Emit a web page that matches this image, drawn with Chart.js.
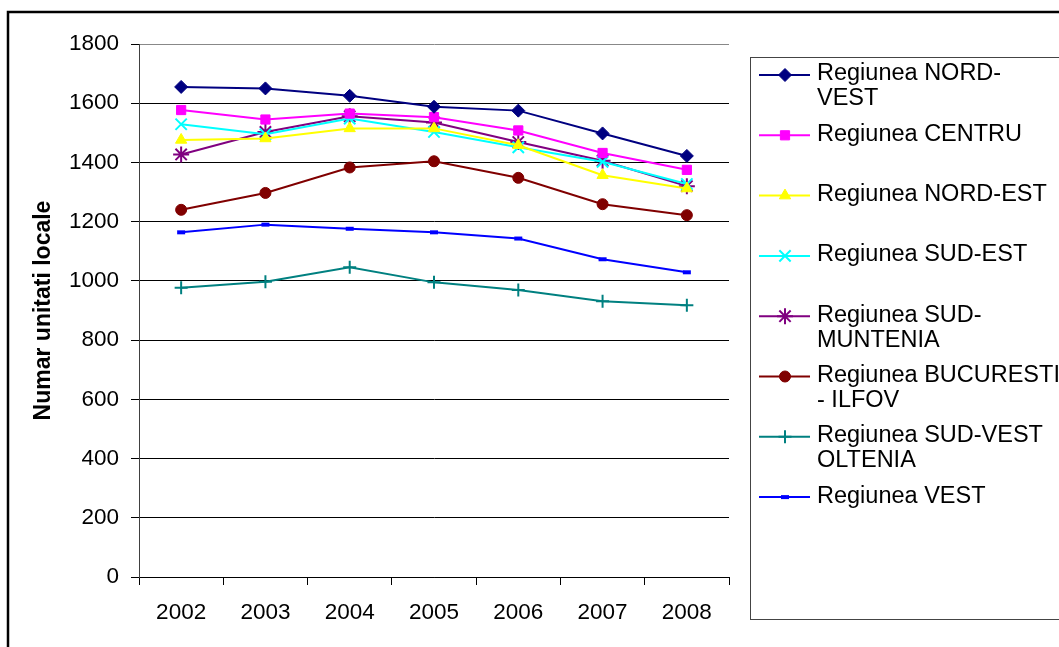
<!DOCTYPE html>
<html>
<head>
<meta charset="utf-8">
<script src="https://cdn.jsdelivr.net/npm/chart.js@4/dist/chart.umd.min.js"></script>
<style>
  html, body { margin: 0; padding: 0; background: #fff; }
  #c { display: block; }
</style>
</head>
<body>
<canvas id="c" width="1059" height="647"></canvas>
<script>
// ---- data ----
const years = ['2002', '2003', '2004', '2005', '2006', '2007', '2008'];
const nordVest       = [1655, 1650, 1625, 1588, 1575, 1498, 1422];
const centru         = [1577, 1545, 1565, 1553, 1508, 1432, 1375];
const nordEst        = [1476, 1481, 1515, 1515, 1458, 1357, 1312];
const sudEst         = [1529, 1495, 1548, 1503, 1451, 1402, 1327];
const sudMuntenia    = [1427, 1503, 1556, 1535, 1469, 1406, 1320];
const bucuresti      = [1240, 1297, 1383, 1404, 1348, 1259, 1222];
const sudVestOltenia = [977, 997, 1046, 995, 969, 931, 918];
const vest           = [1164, 1190, 1176, 1164, 1143, 1073, 1029];
const yTicks = [0, 200, 400, 600, 800, 1000, 1200, 1400, 1600, 1800];
const yTitle = 'Numar unitati locale';
const legendLines = [
  ['Regiunea NORD-', 'VEST'],
  ['Regiunea CENTRU'],
  ['Regiunea NORD-EST'],
  ['Regiunea SUD-EST'],
  ['Regiunea SUD-', 'MUNTENIA'],
  ['Regiunea BUCURESTI', '- ILFOV'],
  ['Regiunea SUD-VEST', 'OLTENIA'],
  ['Regiunea VEST']
];

const FONT = '"Liberation Sans", Arial, sans-serif';

function ds(label, data, color, style, radius, bw) {
  return {
    label: label, data: data,
    borderColor: color, backgroundColor: color,
    pointBackgroundColor: color, pointBorderColor: color,
    pointStyle: style, pointRadius: radius, pointHoverRadius: radius,
    pointBorderWidth: bw, borderWidth: 2, tension: 0, fill: false
  };
}

const datasets = [
  ds(legendLines[0].join(' '), nordVest, '#000080', 'rectRot', 6.5, 1),
  ds(legendLines[1].join(' '), centru, '#FF00FF', 'rect', 6.5, 1),
  ds(legendLines[2].join(' '), nordEst, '#FFFF00', 'triangle', 6.5, 1),
  ds(legendLines[3].join(' '), sudEst, '#00FFFF', 'crossRot', 8, 2),
  ds(legendLines[4].join(' '), sudMuntenia, '#800080', 'star', 8, 2),
  ds(legendLines[5].join(' '), bucuresti, '#800000', 'circle', 5.5, 1),
  ds(legendLines[6].join(' '), sudVestOltenia, '#008080', 'cross', 6.5, 2),
  ds(legendLines[7].join(' '), vest, '#0000FF', 'line', 4, 4)
];

const framePlugin = {
  id: 'framePlugin',
  beforeDraw(chart) {
    const ctx = chart.ctx;
    ctx.save();
    ctx.fillStyle = '#fff';
    ctx.fillRect(0, 0, chart.width, chart.height);
    ctx.strokeStyle = '#000';
    ctx.lineWidth = 2.5;
    ctx.strokeRect(8, 12, 1200, 800);
    ctx.restore();
  },
  afterDraw(chart) {
    const ctx = chart.ctx;
    ctx.save();
    // legend box
    ctx.strokeStyle = '#444';
    ctx.lineWidth = 1;
    ctx.strokeRect(750.5, 57.5, 400, 562);
    ctx.font = '23.5px ' + FONT;
    ctx.textBaseline = 'middle';
    ctx.textAlign = 'left';
    ctx.fillStyle = '#000';
    chart.data.datasets.forEach((d, i) => {
      const y = 75 + i * 60.3;
      ctx.strokeStyle = d.borderColor;
      ctx.lineWidth = 2;
      ctx.beginPath();
      ctx.moveTo(759, y);
      ctx.lineTo(810, y);
      ctx.stroke();
      if (Chart.helpers && Chart.helpers.drawPoint) {
        ctx.fillStyle = d.pointBackgroundColor;
        ctx.strokeStyle = d.pointBorderColor;
        ctx.lineWidth = d.pointBorderWidth;
        Chart.helpers.drawPoint(ctx, {
          pointStyle: d.pointStyle, radius: d.pointRadius, rotation: 0,
          borderWidth: d.pointBorderWidth
        }, 785, y);
      }
      ctx.fillStyle = '#000';
      legendLines[i].forEach((t, k) => {
        ctx.fillText(t, 817, y - 1 + k * 25);
      });
    });
    ctx.restore();
  }
};

new Chart(document.getElementById('c'), {
  type: 'line',
  data: { labels: years, datasets: datasets },
  plugins: [framePlugin],
  options: {
    responsive: false,
    animation: false,
    events: [],
    layout: { padding: { left: 0, top: 44, right: 330, bottom: 0 } },
    plugins: { legend: { display: false }, tooltip: { enabled: false } },
    scales: {
      x: {
        offset: true,
        afterFit(s) { s.height = 70; },
        grid: {
          offset: true,
          drawOnChartArea: true,
          color: (c) => (c.index === years.length ? '#888' : 'rgba(0,0,0,0)'),
          tickColor: '#000',
          tickLength: 8,
          lineWidth: 1
        },
        border: { display: true, color: '#000', width: 1 },
        ticks: { color: '#000', font: { family: FONT, size: 22.5 }, padding: 14, maxRotation: 0 }
      },
      y: {
        min: 0, max: 1800,
        afterFit(s) { s.width = 139; },
        afterBuildTicks(s) { s.ticks = yTicks.map(v => ({ value: v })); },
        grid: {
          color: (c) => (c.tick && c.tick.value === 1800 ? '#888' : '#000'),
          tickColor: '#000',
          tickLength: 8,
          lineWidth: 1
        },
        border: { display: true, color: '#404040', width: 1 },
        ticks: {
          color: '#000', font: { family: FONT, size: 22.5 }, padding: 12,
          callback: (v) => String(v)
        },
        title: {
          display: true, text: yTitle, color: '#000',
          font: { family: FONT, size: 23, weight: 'bold' },
          padding: { top: 30, bottom: 0 }
        }
      }
    }
  }
});
</script>
</body>
</html>
